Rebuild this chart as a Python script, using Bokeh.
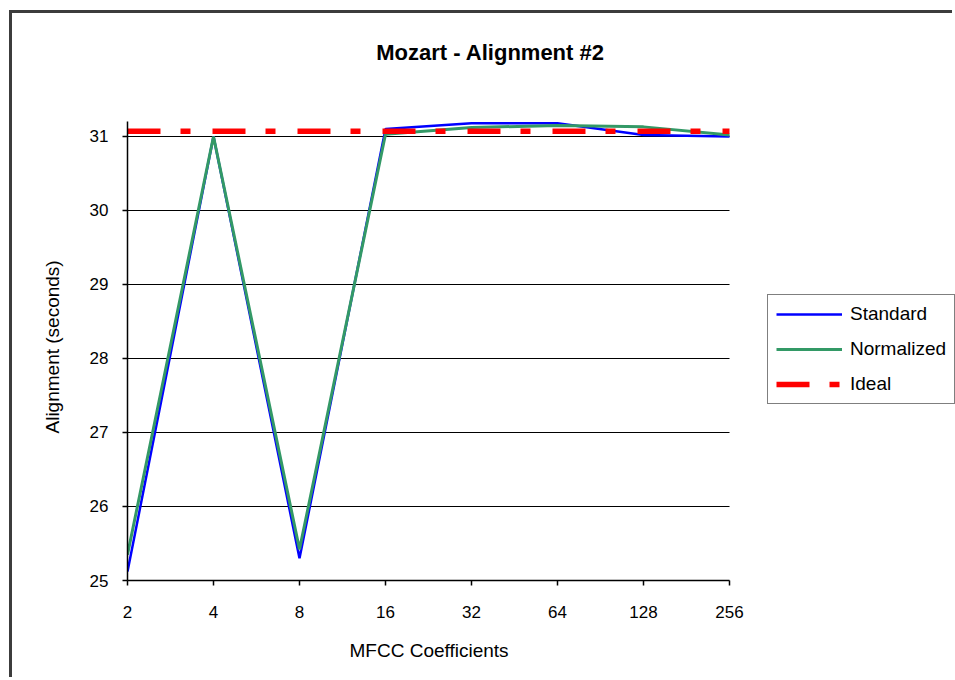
from bokeh.plotting import figure
from bokeh.models import Range1d, FixedTicker, Legend, LegendItem, Title, Label
from bokeh.embed import file_html
from bokeh.resources import INLINE

# MFCC coefficient counts (evenly spaced categories) and alignment results
coefficients = ["2", "4", "8", "16", "32", "64", "128", "256"]
standard = [25.12, 31.0, 25.30, 31.10, 31.18, 31.18, 31.02, 31.00]
normalized = [25.35, 31.0, 25.42, 31.03, 31.12, 31.15, 31.13, 31.02]
ideal = [31.07] * len(coefficients)
y_ticks = [25, 26, 27, 28, 29, 30, 31]

FONT = "Liberation Sans"
xs = list(range(len(coefficients)))
last = len(coefficients) - 1

# the frame runs to the top and right edges so the title and legend can sit
# inside it; axes and grid lines are bounded to the data region
p = figure(
    width=943, height=667,
    output_backend="svg", toolbar_location=None,
    x_range=Range1d(0, 9.628),
    y_range=Range1d(25, 32.662),
    min_border_left=115, min_border_right=0,
    min_border_top=0, min_border_bottom=100,
    styles={"margin-left": "9px", "margin-top": "10px",
            "border-left": "3px solid #3c3c3c", "border-top": "3px solid #3c3c3c"},
)
p.title = None
p.outline_line_color = None
p.background_fill_color = "white"
p.border_fill_color = "white"

# chart title, positioned in pixels from the frame's bottom-left corner
p.add_layout(Label(x=363, y=528, x_units="screen", y_units="screen",
                   text="Mozart - Alignment #2", text_align="center",
                   text_baseline="middle", text_font=FONT, text_font_size="22px",
                   text_font_style="bold", text_color="black"))

# x axis
p.xaxis.ticker = FixedTicker(ticks=xs)
p.xaxis.bounds = (0, last)
p.xaxis.major_label_overrides = {i: c for i, c in enumerate(coefficients)}
p.xaxis.major_label_standoff = 20
p.add_layout(Title(text="MFCC Coefficients", align="left", offset=222,
                   standoff=34, text_font=FONT, text_font_size="19px",
                   text_font_style="normal", text_color="black"), "below")

# y axis
p.yaxis.ticker = FixedTicker(ticks=y_ticks)
p.yaxis.bounds = (25, 31.2)
p.yaxis.major_label_standoff = 14
p.add_layout(Title(text="Alignment (seconds)", align="left", offset=147,
                   standoff=48, text_font=FONT, text_font_size="19px",
                   text_font_style="normal", text_color="black"), "left")

for ax in (p.xaxis, p.yaxis):
    ax.axis_line_color = "black"
    ax.axis_line_width = 1.5
    ax.major_tick_line_color = "black"
    ax.major_tick_line_width = 1.5
    ax.major_tick_out = 5
    ax.major_tick_in = 0
    ax.minor_tick_line_color = None
    ax.major_label_text_font = FONT
    ax.major_label_text_font_size = "17px"
    ax.major_label_text_color = "black"

p.xgrid.grid_line_color = None
p.ygrid.grid_line_color = "black"
p.ygrid.grid_line_width = 1.2
p.ygrid.cross_bounds = (0, last)

r_std = p.line(xs, standard, line_color="#0000FF", line_width=2.5)
r_norm = p.line(xs, normalized, line_color="#339966", line_width=3)
r_ideal = p.line(xs, ideal, line_color="#FF0000", line_width=5.5,
                 line_dash="33 20 10 22")

legend = Legend(
    items=[
        LegendItem(label="Standard", renderers=[r_std]),
        LegendItem(label="Normalized", renderers=[r_norm]),
        LegendItem(label="Ideal", renderers=[r_ideal]),
    ],
    location=(640, 176),
    orientation="vertical",
    border_line_color="black",
    border_line_width=1.5,
    background_fill_color="white",
    background_fill_alpha=1,
    padding=8,
    margin=0,
    spacing=13,
    glyph_width=66,
    glyph_height=20,
    label_height=20,
    label_standoff=8,
    label_text_font=FONT,
    label_text_font_size="19px",
    label_text_color="black",
)
p.add_layout(legend, "center")

open("out.html", "w").write(file_html(p, INLINE))
